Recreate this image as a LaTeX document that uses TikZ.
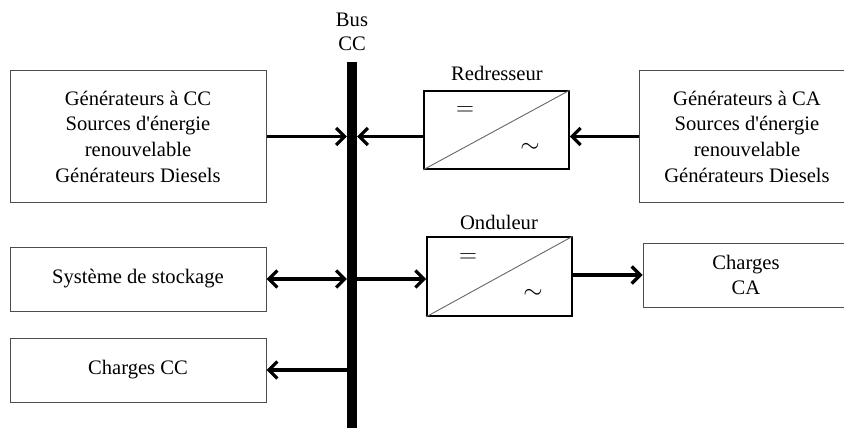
\documentclass[tikz,border=0pt]{standalone}
\usepackage{fontspec}
\setmainfont{Liberation Serif}[Ligatures=TeXOff]
\usetikzlibrary{arrows.meta,calc}

\tikzset{
  block/.style={draw=black!70, line width=1pt, rectangle, align=center,
    inner sep=0pt, font=\fontsize{20.6}{25.7}\selectfont},
  conv/.style={draw=black, line width=1.6pt, rectangle, inner sep=0pt,
    minimum width=145pt},
  lbl/.style={inner sep=0pt, font=\fontsize{20.6}{25.7}\selectfont},
  sym/.style={inner sep=0pt, font=\fontsize{24}{26}\selectfont},
  tip/.tip={Straight Barb[length=8.5pt,width=17pt,line width=3.2pt]},
  arr/.style={line width=3.2pt, -tip},
  darr/.style={line width=3.2pt, tip-tip},
}

\begin{document}
\begin{tikzpicture}[x=1pt, y=-1pt]
  \useasboundingbox (0,0) rectangle (844,428);
  \clip (0,0) rectangle (844,428);

  % DC bus bar
  \node[fill=black, inner sep=0pt, minimum width=10pt, minimum height=380pt,
        anchor=north] (bus) at (352,62) {};
  \node[lbl] (busl1) at (352,20) {Bus};
  \node[lbl] (busl2) at (352,44) {CC};

  % left-hand blocks
  \node[block, minimum width=256pt, minimum height=131pt] (gencc) at (138,136.5)
    {Générateurs à CC\\Sources d'énergie\\renouvelable\\Générateurs Diesels};
  \node[block, minimum width=256pt, minimum height=64pt] (stock) at (138,279)
    {Système de stockage};
  \node[block, minimum width=256pt, minimum height=64pt] (chcc) at (138,370)
    {Charges CC};

  % right-hand blocks
  \node[block, minimum width=216pt, minimum height=131pt] (genca) at (747,136.5)
    {Générateurs à CA\\Sources d'énergie\\renouvelable\\Générateurs Diesels};
  \node[block, minimum width=206pt, minimum height=64pt] (chca) at (746,275)
    {Charges\\CA};

  % converters
  \node[conv, minimum height=78pt] (redr) at (496.5,130) {};
  \node[lbl] (redrl) at (497,73) {Redresseur};
  \draw[black!60, line width=0.9pt] (redr.south west) -- (redr.north east);
  \node[sym] (redreq) at ($(redr.center)+(-31.5,-19)$) {$=$};
  \node[sym] (redrac) at ($(redr.center)+(33.5,18)$) {$\sim$};

  \node[conv, minimum height=79pt] (ond) at (499.5,276.5) {};
  \node[lbl] (ondl) at (499,222) {Onduleur};
  \draw[black!60, line width=0.9pt] (ond.south west) -- (ond.north east);
  \node[sym] (ondeq) at ($(ond.center)+(-31.5,-18.5)$) {$=$};
  \node[sym] (ondac) at ($(ond.center)+(33.5,17.5)$) {$\sim$};

  % connections
  \draw[arr] (gencc.east) -- (gencc.east -| bus.west);
  \draw[arr] (genca.west) -- (genca.west -| redr.east);
  \draw[arr] (redr.west |- genca.west) -- (genca.west -| bus.east);
  \draw[darr] (stock.east) -- (stock.east -| bus.west);
  \draw[arr] (bus.east |- stock.east) -- (ond.west |- stock.east);
  \draw[arr] (ond.east |- chca.west) -- (chca.west);
  \draw[arr] (chcc.east -| bus.west) -- (chcc.east);
\end{tikzpicture}
\end{document}
